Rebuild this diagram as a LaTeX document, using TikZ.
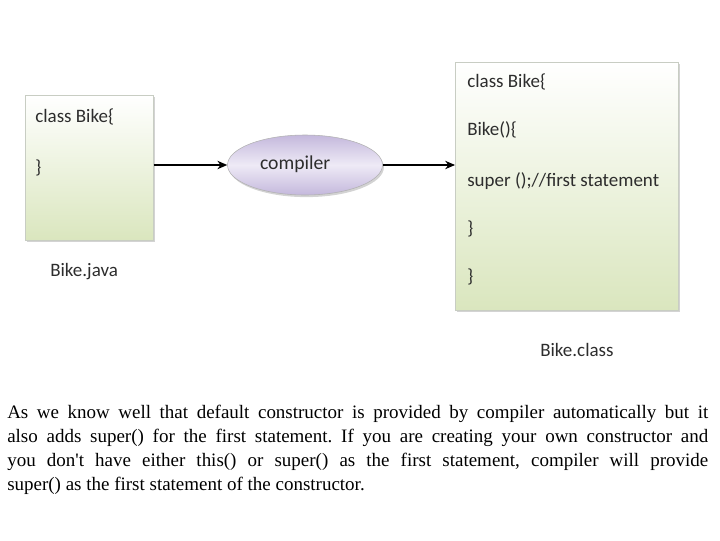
\documentclass[tikz,border=0pt]{standalone}
\usepackage{fontspec}
\setmainfont{Liberation Serif}
\newfontfamily\diagfont{Carlito}
\usepackage{tikz}
\usetikzlibrary{positioning,shapes.geometric,shadows,arrows.meta}

\definecolor{boxgreen}{RGB}{218,230,190}
\definecolor{boxedge}{RGB}{200,205,195}
\definecolor{ellpurple}{RGB}{196,184,220}
\definecolor{elllight}{RGB}{238,234,246}
\definecolor{codeink}{RGB}{45,45,45}

\begin{document}
\begin{tikzpicture}[
    x=0.025cm, y=-0.025cm,
    codebox/.style={
        draw=boxedge,
        top color=white,
        bottom color=boxgreen,
        drop shadow={opacity=0.35, shadow xshift=1.5pt, shadow yshift=-1.5pt},
        anchor=north west,
        inner sep=0pt
    },
    codeline/.style={
        anchor=west,
        text=codeink,
        font=\diagfont\fontsize{13.5}{16}\selectfont,
        inner sep=0pt
    },
    filename/.style={
        anchor=west,
        text=codeink,
        font=\diagfont\fontsize{13.5}{16}\selectfont,
        inner sep=0pt
    },
    compbox/.style={
        ellipse,
        draw=gray!60,
        top color=ellpurple,
        bottom color=ellpurple,
        middle color=elllight,
        drop shadow={opacity=0.35, shadow xshift=1pt, shadow yshift=-1.5pt},
        minimum width=155*0.025cm,
        minimum height=60*0.025cm,
        inner sep=0pt,
        text=codeink,
        font=\diagfont\fontsize{14}{16}\selectfont
    },
    flowarrow/.style={-{Stealth[length=7pt,width=6pt]}, thick}
]
\useasboundingbox (0,0) rectangle (720,540);

% source file
\node[codebox, minimum width=128*0.025cm, minimum height=145*0.025cm] (src) at (25,95) {};
\node[codeline] (srcA) at (35,117) {class Bike\{};
\node[codeline] (srcB) at (35,168) {\}};
\node[filename] (srcname) at (50,272) {Bike.java};

% compiler
\node[compbox] (comp) at (305,165) {\hspace*{-14pt}\raisebox{4pt}{compiler}};

% class file
\node[codebox, minimum width=223*0.025cm, minimum height=248*0.025cm] (cls) at (455,62) {};
\node[codeline] (clsA) at (467,82) {class Bike\{};
\node[codeline] (clsB) at (467,130) {Bike()\{};
\node[codeline] (clsC) at (467,181) {super ();//first statement};
\node[codeline] (clsD) at (467,229) {\}};
\node[codeline] (clsE) at (467,277) {\}};
\node[filename] (clsname) at (540,350) {Bike.class};

\draw[flowarrow] (src.east |- comp) -- (comp.west);
\draw[flowarrow] (comp.east) -- (cls.west |- comp);

% explanation
\node[anchor=north west, text width=701*0.025cm, align=justify, inner sep=0pt,
      font=\fontsize{13.5}{17}\selectfont\frenchspacing] (note) at (7,405)
{As we know well that default constructor is provided by compiler automatically but it\linebreak
also adds super() for the first statement. If you are creating your own constructor and\linebreak
you don\textquotesingle t have either this() or super() as the first statement, compiler will provide\linebreak
super() as the first statement of the constructor.};
\end{tikzpicture}
\end{document}
